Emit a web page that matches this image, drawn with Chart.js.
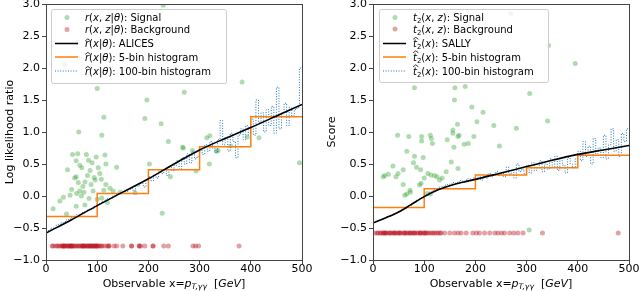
<!DOCTYPE html>
<html>
<head>
<meta charset="utf-8">
<script src="https://cdn.jsdelivr.net/npm/chart.js@4.4.1/dist/chart.umd.min.js"></script>
<style>
html, body { margin: 0; padding: 0; background: #fff; }
#wrap { position: relative; width: 640px; height: 291px; }
canvas { position: absolute; top: 0; }
</style>
</head>
<body>
<div id="wrap">
  <canvas id="ratioChart" width="320" height="291" style="left:0"></canvas>
  <canvas id="scoreChart" width="320" height="291" style="left:320px"></canvas>
</div>
<script>
/* --------------- Data: left panel (log likelihood ratio) --------------------- */
const ratioSignalX = [37, 62, 229, 100, 113, 109, 64, 197, 193, 225, 270, 239, 267, 383, 314, 320, 361, 393, 416, 268, 286, 333, 319, 293, 243, 495, 202, 227, 336,
    52, 62, 79, 98, 115, 59, 83, 117, 138, 42, 70, 86, 102, 81, 94, 59, 76, 63, 96, 117, 113, 50, 66, 74, 92, 47, 60, 69, 34, 27, 59, 14, 40, 76, 120, 109, 131, 174, 88, 105, 72, 90, 125, 145, 100, 84, 56, 66, 108];
const ratioSignalY = [2.05, 2.4, 2.98, 1.68, 1.23, 0.95, 1.0, 1.5, 1.21, 1.13, 1.62, 0.85, 0.76, 1.78, 0.91, 0.94, 0.78, 0.92, 0.91, 0.75, 0.71, 0.7, 0.5, 0.39, 0.3, 0.52, 0.5, -0.27, 0.71,
    0.65, 0.66, 0.65, 0.61, 0.64, 0.55, 0.56, 0.5, 0.45, 0.41, 0.44, 0.4, 0.44, 0.32, 0.29, 0.3, 0.22, 0.21, 0.25, 0.18, 0.09, 0.1, 0.08, 0.06, 0.08, 0.01, 0.04, 0.0, -0.02, -0.08, -0.16, -0.2, -0.28, -0.14, -0.1, -0.03, 0.08, 0.05, 0.18, 0.35, 0.15, 0.52, 0.12, 0.06, -0.05, -0.04, 0.28, 0.48, 0.26];
const ratioBackgroundX = [12, 14, 19, 22, 25, 28, 32, 32, 34, 36, 36, 38, 42, 42, 44, 47, 47, 49, 51, 51, 53, 56, 58, 61, 63, 66, 68, 71, 71, 73, 75, 75, 78, 81, 81, 83, 86, 86, 88, 90, 92, 92, 95, 97, 97, 100, 100, 102, 105, 108, 110, 115, 120, 123, 123, 133, 138, 150, 167, 167, 182, 182, 185, 193, 209, 209, 230, 239, 287, 292, 298, 377];
const ratioBackgroundLevel = -0.78;
const ratioCurveX = [0, 50, 100, 150, 200, 250, 300, 350, 400, 450, 500];
const ratioAlices = [-0.58, -0.37, -0.15, 0.06, 0.27, 0.5, 0.72, 0.9, 1.07, 1.25, 1.43];
const ratioHist5 = [-0.32, 0.04, 0.41, 0.77, 1.24];
const ratioHist100 = [
    -0.55, -0.53, -0.50, -0.50, -0.45, -0.44, -0.42, -0.40, -0.37, -0.36,
    -0.33, -0.33, -0.29, -0.28, -0.26, -0.24, -0.22, -0.20, -0.19, -0.16,
    -0.12, -0.11, -0.08, -0.06, -0.04, -0.03, 0.00, 0.02, 0.03, 0.05,
    0.04, 0.07, 0.10, 0.12, 0.08, 0.15, 0.17, 0.20, 0.14, 0.24,
    0.30, 0.24, 0.33, 0.28, 0.38, 0.35, 0.42, 0.32, 0.45, 0.40,
    0.48, 0.55, 0.42, 0.60, 0.50, 0.66, 0.52, 0.70, 0.58, 0.62,
    0.72, 0.65, 0.80, 0.70, 0.85, 0.75, 0.68, 0.88, 1.18, 0.80,
    0.92, 0.70, 0.98, 0.85, 0.60, 0.95, 1.05, 0.88, 1.10, 0.95,
    1.20, 0.95, 1.50, 1.15, 1.30, 1.00, 1.35, 1.10, 1.40, 0.98,
    1.70, 1.05, 1.30, 1.45, 1.10, 1.38, 1.25, 1.35, 1.38, 2.00
];

/* --------------- Data: right panel (score) --------------------- */
const scoreSignalX = [269, 343, 395, 81, 160, 180, 159, 306, 193, 215, 165, 203, 236, 280, 341, 48, 70, 95, 112, 114, 95, 116, 145, 156, 156, 166, 168, 197, 178, 186, 158, 247,
    39, 66, 81, 98, 79, 59, 93, 107, 113, 120, 23, 30, 45, 143, 153, 166, 20, 49, 59, 91, 94, 72, 73, 62, 66, 106, 112, 305, 125, 135, 85, 100, 130];
const scoreSignalY = [2.85, 2.35, 2.07, 1.69, 1.69, 1.71, 1.5, 1.6, 1.39, 1.31, 1.12, 1.16, 1.1, 1.06, 1.17, 0.95, 0.93, 0.93, 0.95, 0.9, 0.86, 0.82, 0.88, 1.03, 0.98, 0.93, 0.95, 0.93, 0.81, 0.82, 0.76, 0.78,
    0.47, 0.7, 0.62, 0.6, 0.52, 0.41, 0.41, 0.35, 0.33, 0.32, 0.32, 0.34, 0.3, 0.38, 0.53, 0.43, 0.3, 0.35, 0.18, 0.17, 0.2, 0.09, 0.06, 0.01, 0.03, 0.04, 0.03, -0.53, 0.3, 0.28, 0.45, 0.28, 0.25];
const scoreBackgroundX = [3, 8, 10, 14, 16, 20, 20, 23, 25, 25, 29, 33, 33, 36, 40, 42, 42, 46, 49, 52, 52, 55, 60, 62, 62, 66, 68, 72, 72, 75, 78, 81, 81, 85, 88, 92, 92, 94, 98, 101, 101, 104, 107, 110, 114, 117, 120, 124, 127, 131, 133, 140, 150, 159, 166, 172, 182, 195, 202, 208, 218, 228, 238, 244, 251, 257, 267, 275, 283, 293, 331, 479];
const scoreBackgroundLevel = -0.58;
const scoreCurveX = [0, 25, 50, 75, 100, 125, 150, 175, 200, 250, 300, 350, 400, 450, 500];
const scoreSally = [-0.42, -0.34, -0.25, -0.13, -0.01, 0.09, 0.16, 0.215, 0.26, 0.36, 0.46, 0.56, 0.65, 0.72, 0.79];
const scoreHist5 = [-0.18, 0.115, 0.33, 0.44, 0.635];
const scoreHist100 = [
    -0.41, -0.40, -0.38, -0.37, -0.35, -0.34, -0.32, -0.30, -0.28, -0.26,
    -0.24, -0.22, -0.20, -0.17, -0.15, -0.12, -0.09, -0.06, -0.04, -0.02,
    0.01, 0.03, 0.06, 0.08, 0.10, 0.12, 0.14, 0.15, 0.17, 0.18,
    0.19, 0.21, 0.20, 0.22, 0.24, 0.23, 0.25, 0.27, 0.24, 0.28,
    0.26, 0.30, 0.25, 0.31, 0.28, 0.35, 0.30, 0.33, 0.38, 0.32,
    0.36, 0.30, 0.45, 0.34, 0.40, 0.28, 0.50, 0.38, 0.42, 0.35,
    0.48, 0.36, 0.52, 0.40, 0.44, 0.55, 0.38, 0.50, 0.42, 0.58,
    0.45, 0.62, 0.40, 0.55, 0.48, 0.36, 0.60, 0.50, 0.44, 0.58,
    0.70, 0.55, 0.85, 0.62, 0.78, 0.50, 0.90, 0.66, 0.75, 0.60,
    0.95, 0.58, 0.80, 1.05, 0.70, 0.88, 0.62, 0.98, 0.85, 1.05
];

/* --------------- Shared axis values --------------------- */
const binEdges5 = [0, 100, 200, 300, 400, 500];
const binEdges100 = Array.from({ length: 101 }, (_, i) => i * 5);
const xTicks = [0, 100, 200, 300, 400, 500];
const yTicks = [-1.0, -0.5, 0.0, 0.5, 1.0, 1.5, 2.0, 2.5, 3.0];

const FONT = '"DejaVu Sans"';
const GREEN = 'rgba(44, 160, 44, 0.38)';
const RED = 'rgba(185, 20, 30, 0.4)';
const ORANGE = '#ff7f0e';
const BLUE = '#1f77b4';

function points(xs, ys) {
    return xs.map((x, i) => ({ x: x, y: Array.isArray(ys) ? ys[i] : ys }));
}
function steps(edges, vals) {
    return edges.map((e, i) => ({ x: e, y: vals[Math.min(i, vals.length - 1)] }));
}

/* --------------- Rich text (mathtext-like) --------------------- */
function fontFor(style, size) {
    const sub = style[0] === 's';
    const ital = style.indexOf('i') >= 0;
    return (ital ? 'italic ' : '') + (sub ? size * 0.7 : size) + 'px ' + FONT;
}
function richWidth(ctx, parts, size) {
    let w = 0;
    parts.forEach(p => { ctx.font = fontFor(p[1], size); w += ctx.measureText(p[0]).width; });
    return w;
}
function drawRich(ctx, x, y, parts, size) {
    ctx.textBaseline = 'alphabetic';
    ctx.textAlign = 'left';
    ctx.fillStyle = '#000';
    parts.forEach(p => {
        const style = p[1];
        ctx.font = fontFor(style, size);
        const w = ctx.measureText(p[0]).width;
        const dy = style[0] === 's' ? size * 0.22 : 0;
        ctx.fillText(p[0], x, y + dy);
        if (style[0] === 'h') {
            const cx = x + w / 2 + size * 0.08;
            const top = y - size * (p[0] === 't' ? 0.98 : 0.82);
            ctx.save();
            ctx.strokeStyle = '#000';
            ctx.lineWidth = 0.8;
            ctx.beginPath();
            ctx.moveTo(cx - 2.6, top + 2);
            ctx.lineTo(cx, top);
            ctx.lineTo(cx + 2.6, top + 2);
            ctx.stroke();
            ctx.restore();
        }
        x += w;
    });
}

/* --------------- Legend, frame and x title plugin --------------------- */
const decorPlugin = {
    id: 'decor',
    afterDatasetsDraw(chart, args, opts) {
        const ctx = chart.ctx;
        const a = chart.chartArea;
        const L = opts.legend;
        ctx.save();
        // legend box
        ctx.beginPath();
        ctx.roundRect(L.x + 0.5, L.y + 0.5, L.w, L.h, 2);
        ctx.fillStyle = 'rgba(255,255,255,0.8)';
        ctx.fill();
        ctx.strokeStyle = '#cccccc';
        ctx.lineWidth = 1;
        ctx.stroke();
        L.rows.forEach((row, i) => {
            const cy = L.y + L.rowY[i];
            const mx = L.x + L.markX;
            if (row.kind === 'dot') {
                ctx.beginPath();
                ctx.arc(mx, cy, 2.5, 0, Math.PI * 2);
                ctx.fillStyle = row.color;
                ctx.fill();
            } else {
                ctx.beginPath();
                ctx.moveTo(mx - 12, cy);
                ctx.lineTo(mx + 11, cy);
                ctx.strokeStyle = row.color;
                ctx.lineWidth = row.dash ? 1 : 1.5;
                ctx.setLineDash(row.dash || []);
                ctx.stroke();
                ctx.setLineDash([]);
            }
            drawRich(ctx, L.x + L.textX, cy + 3.6, row.parts, 10);
        });
        // frame
        ctx.strokeStyle = '#444';
        ctx.lineWidth = 1;
        ctx.strokeRect(Math.round(a.left) + 0.5, Math.round(a.top) + 0.5, Math.round(a.right - a.left), Math.round(a.bottom - a.top));
        // x title
        const tw = richWidth(ctx, opts.xTitle, 11);
        drawRich(ctx, (a.left + a.right) / 2 - tw / 2, 287, opts.xTitle, 11);
        ctx.restore();
    }
};

function makeChart(canvasId, cfg) {
    const tickFont = { size: 11, family: FONT };
    return new Chart(document.getElementById(canvasId), {
        type: 'scatter',
        plugins: [decorPlugin],
        data: {
            datasets: [
                { data: cfg.line, showLine: true, borderColor: '#000', borderWidth: 1.6, pointRadius: 0, cubicInterpolationMode: 'monotone', order: 0 },
                { data: cfg.hist5, showLine: true, stepped: 'before', borderColor: ORANGE, borderWidth: 1.5, pointRadius: 0, order: 1 },
                { data: cfg.hist100, showLine: true, stepped: 'before', borderColor: BLUE, borderWidth: 1, borderDash: [1, 1.6], pointRadius: 0, order: 2 },
                { data: cfg.background, backgroundColor: RED, borderWidth: 0, pointRadius: 2.5, order: 3 },
                { data: cfg.signal, backgroundColor: GREEN, borderWidth: 0, pointRadius: 2.5, order: 4 }
            ]
        },
        options: {
            responsive: false,
            animation: false,
            events: [],
            layout: { padding: { left: 0, right: cfg.padRight, top: 4, bottom: 0 } },
            plugins: {
                legend: { display: false },
                tooltip: { enabled: false },
                decor: { legend: cfg.legend, xTitle: cfg.xTitle }
            },
            scales: {
                x: {
                    type: 'linear', min: 0, max: 500,
                    afterBuildTicks: s => { s.ticks = xTicks.map(v => ({ value: v })); },
                    ticks: { color: '#000', font: tickFont, padding: -1, maxRotation: 0 },
                    grid: { drawOnChartArea: false, tickLength: 4, color: '#444' },
                    border: { display: false },
                    afterFit: s => { s.height = 31; s.paddingLeft = 0; s.paddingRight = 0; }
                },
                y: {
                    min: -1, max: 3,
                    afterBuildTicks: s => { s.ticks = yTicks.map(v => ({ value: v })); },
                    ticks: {
                        color: '#000', font: tickFont, padding: 2,
                        callback: v => (v < 0 ? '\u2212' : '') + Math.abs(v).toFixed(1)
                    },
                    grid: { drawOnChartArea: false, tickLength: 4, color: '#444' },
                    border: { display: false },
                    title: { display: true, text: cfg.yTitle, color: '#000', font: tickFont, padding: { top: cfg.titlePad, bottom: 0 } },
                    afterFit: s => { s.width = cfg.axisWidth; s.paddingTop = 0; s.paddingBottom = 0; }
                }
            }
        }
    });
}

/* --------------- Left chart --------------------- */
makeChart('ratioChart', {
    line: points(ratioCurveX, ratioAlices),
    hist5: steps(binEdges5, ratioHist5),
    hist100: steps(binEdges100, ratioHist100),
    background: points(ratioBackgroundX, ratioBackgroundLevel),
    signal: points(ratioSignalX, ratioSignalY),
    padRight: 18,
    axisWidth: 46,
    titlePad: 4,
    yTitle: 'Log likelihood ratio',
    xTitle: [['Observable x=', 'n'], ['p', 'i'], ['T,\u03b3\u03b3', 'si'], ['  [', 'n'], ['GeV', 'i'], [']', 'n']],
    legend: {
        x: 51, y: 9, w: 175, h: 74, markX: 16, textX: 34,
        rowY: [8.5, 20.5, 34.5, 48, 62],
        rows: [
            { kind: 'dot', color: GREEN, parts: [['r', 'i'], ['(', 'n'], ['x', 'i'], [', ', 'n'], ['z', 'i'], ['|', 'n'], ['\u03b8', 'i'], ['): Signal', 'n']] },
            { kind: 'dot', color: RED, parts: [['r', 'i'], ['(', 'n'], ['x', 'i'], [', ', 'n'], ['z', 'i'], ['|', 'n'], ['\u03b8', 'i'], ['): Background', 'n']] },
            { kind: 'line', color: '#000', parts: [['r', 'hi'], ['(', 'n'], ['x', 'i'], ['|', 'n'], ['\u03b8', 'i'], ['): ALICES', 'n']] },
            { kind: 'line', color: ORANGE, parts: [['r', 'hi'], ['(', 'n'], ['x', 'i'], ['|', 'n'], ['\u03b8', 'i'], ['): 5-bin histogram', 'n']] },
            { kind: 'line', color: BLUE, dash: [1, 1.6], parts: [['r', 'hi'], ['(', 'n'], ['x', 'i'], ['|', 'n'], ['\u03b8', 'i'], ['): 100-bin histogram', 'n']] }
        ]
    }
});

/* --------------- Right chart --------------------- */
makeChart('scoreChart', {
    line: points(scoreCurveX, scoreSally),
    hist5: steps(binEdges5, scoreHist5),
    hist100: steps(binEdges100, scoreHist100),
    background: points(scoreBackgroundX, scoreBackgroundLevel),
    signal: points(scoreSignalX, scoreSignalY),
    padRight: 11,
    axisWidth: 53,
    titlePad: 6,
    yTitle: 'Score',
    xTitle: [['Observable x=', 'n'], ['p', 'i'], ['T,\u03b3\u03b3', 'si'], ['  [', 'n'], ['GeV', 'i'], [']', 'n']],
    legend: {
        x: 59, y: 9, w: 169, h: 73, markX: 16, textX: 34,
        rowY: [8.5, 20, 34.5, 48, 62],
        rows: [
            { kind: 'dot', color: GREEN, parts: [['t', 'i'], ['2', 'sn'], ['(', 'n'], ['x', 'i'], [', ', 'n'], ['z', 'i'], ['): Signal', 'n']] },
            { kind: 'dot', color: RED, parts: [['t', 'i'], ['2', 'sn'], ['(', 'n'], ['x', 'i'], [', ', 'n'], ['z', 'i'], ['): Background', 'n']] },
            { kind: 'line', color: '#000', parts: [['t', 'hi'], ['2', 'sn'], ['(', 'n'], ['x', 'i'], ['): SALLY', 'n']] },
            { kind: 'line', color: ORANGE, parts: [['t', 'hi'], ['2', 'sn'], ['(', 'n'], ['x', 'i'], ['): 5-bin histogram', 'n']] },
            { kind: 'line', color: BLUE, dash: [1, 1.6], parts: [['t', 'hi'], ['2', 'sn'], ['(', 'n'], ['x', 'i'], ['): 100-bin histogram', 'n']] }
        ]
    }
});
</script>
</body>
</html>
